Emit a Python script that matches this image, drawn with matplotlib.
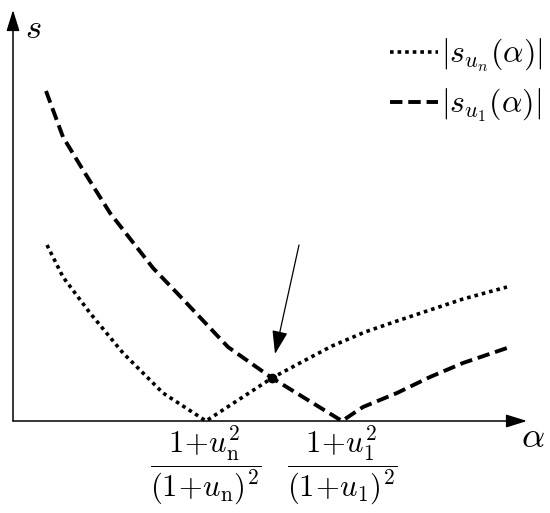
import matplotlib
matplotlib.use("Agg")
import matplotlib.pyplot as plt

plt.rcParams['mathtext.fontset'] = 'cm'
plt.rcParams['font.family'] = ['DejaVu Serif']

# data (arbitrary units)
dotted_x = [34, 50, 77, 110, 150, 193, 259, 285, 319, 352, 384, 417, 450, 494]
dotted_y = [176, 144, 108, 68, 28, 0, 43, 57, 75, 89, 100, 111, 122, 134]
dashed_x = [33, 50, 70, 97, 140, 164, 215, 259, 329, 350, 384, 417, 450, 494]
dashed_y = [330, 284, 251, 208, 153, 128, 74, 43, 0, 14, 28, 44, 58, 73]
cross_x, cross_y = 259, 43
arrow_start = (286, 176)
tick_pos = [193, 329]
tick_labels = [r'$\dfrac{1\!+\!u_{\mathrm{n}}^2}{(1\!+\!u_{\mathrm{n}})^2}$',
               r'$\dfrac{1\!+\!u_1^2}{(1\!+\!u_1)^2}$']
series_labels = [r'$|s_{u_n}(\alpha)|$', r'$|s_{u_1}(\alpha)|$']

W, H = 550, 513
fig = plt.figure(figsize=(W / 100, H / 100), dpi=100)
x0, x1, ytop, ybot = 13, 527, 10, 421
ax = fig.add_axes([x0 / W, (H - ybot) / H, (x1 - x0) / W, (ybot - ytop) / H])
ax.set_xlim(0, x1 - x0)
ax.set_ylim(0, ybot - ytop)
for s in ax.spines.values():
    s.set_visible(False)

ax.plot(dotted_x, dotted_y, color='k', lw=2.6, linestyle=(0, (1, 1.1)),
        label=series_labels[0], clip_on=False)
ax.plot(dashed_x, dashed_y, color='k', lw=2.8, linestyle=(0, (3.2, 1.5)),
        label=series_labels[1], clip_on=False)
ax.plot([cross_x], [cross_y], 'o', color='k', ms=6, zorder=5)

# axes arrows
ap = dict(arrowstyle='-|>,head_length=0.8,head_width=0.25', lw=1.1,
          color='k', mutation_scale=16, shrinkA=0, shrinkB=0)
ax.annotate('', xy=(0, 1), xytext=(0, 0), xycoords='axes fraction',
            textcoords='axes fraction', arrowprops=ap)
ax.annotate('', xy=(1, 0), xytext=(0, 0), xycoords='axes fraction',
            textcoords='axes fraction', arrowprops=ap)

# pointer arrow
ap2 = dict(arrowstyle='-|>,head_length=0.9,head_width=0.3', lw=0.9,
           color='k', mutation_scale=16, shrinkA=0, shrinkB=0)
ax.annotate('', xy=(cross_x + 3, cross_y + 24), xytext=arrow_start, arrowprops=ap2)

ax.set_xticks(tick_pos)
ax.set_xticklabels(tick_labels, fontsize=22)
ax.tick_params(axis='x', length=0, pad=3)
ax.set_yticks([])

ax.text(1.012, -0.038, r'$\alpha$', transform=ax.transAxes, fontsize=26,
        ha='center', va='center')
ax.text(0.04, 0.955, r'$s$', transform=ax.transAxes, fontsize=25,
        ha='center', va='center')

leg = ax.legend(loc='upper right', bbox_to_anchor=(543 / W, 1 - 37 / H),
                bbox_transform=fig.transFigure, frameon=False, fontsize=23,
                handlelength=1.5, handletextpad=0.1, labelspacing=0.4,
                borderaxespad=0, borderpad=0)

fig.savefig('out.png', dpi=100)
